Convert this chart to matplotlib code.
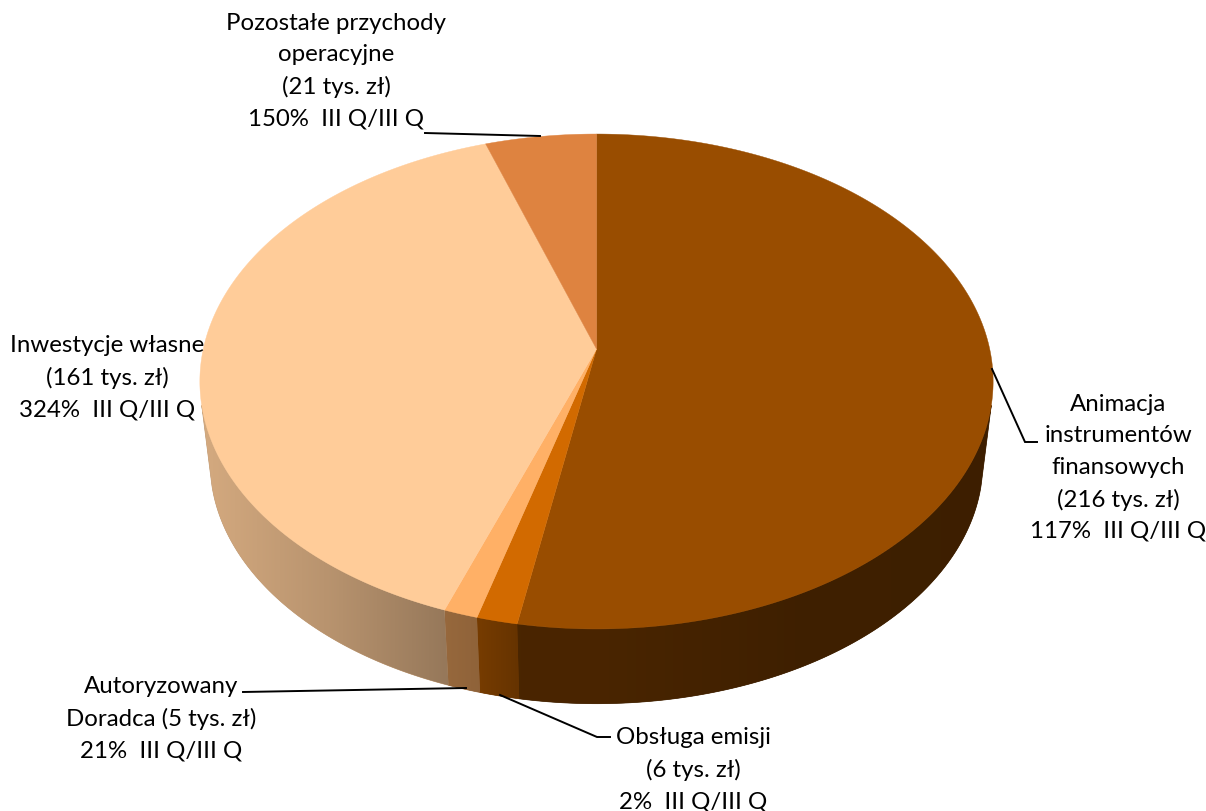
import numpy as np
import matplotlib
matplotlib.use('Agg')
import matplotlib.pyplot as plt
from matplotlib.patches import Polygon

plt.rcParams['font.family'] = ['Lato', 'DejaVu Sans']

# slices, clockwise from 12 o'clock
values = [216, 6, 5, 161, 21]
labels = ['Animacja\ninstrumentów\nfinansowych\n(216 tys. zł)\n117%  III Q/III Q',
          'Obsługa emisji\n(6 tys. zł)\n2%  III Q/III Q',
          'Autoryzowany\nDoradca (5 tys. zł)\n21%  III Q/III Q',
          'Inwestycje własne\n(161 tys. zł)\n324%  III Q/III Q',
          'Pozostałe przychody\noperacyjne\n(21 tys. zł)\n150%  III Q/III Q']
colors = ['#994D00', '#D26A00', '#FFB066', '#FFCC99', '#DE8340']
label_xy = [(1118, 468), (693, 770), (161, 719), (107, 378), (336, 71)]
leaders = [[(992, 370), (1025, 443), (1037, 443)],
           [(500, 696), (597, 738), (610, 738)],
           [(243, 693), (466, 689)],
           [(425, 134), (540, 137)]]

# pie geometry in pixels, perspective squeeze k
cx, cy = 596.5, 350
A, B, k = 393.2, 243.2, 0.1313
cy_low, scale_low = 432, 0.974

def top_rim(a):
    den = 1 + k * np.cos(a)
    return cx + A * np.sin(a) / den, cy - B * np.cos(a) / den

def low_rim(a):
    den = 1 + k * np.cos(a)
    return cx + scale_low * A * np.sin(a) / den, cy_low - scale_low * B * np.cos(a) / den

def shade(x):
    # side walls get darker from left to right
    return np.interp(x, [205, 330, 445, 480, 520, 600, 800, 990],
                     [0.83, 0.72, 0.59, 0.56, 0.48, 0.48, 0.41, 0.40])

fig = plt.figure(figsize=(12.06, 8.12), dpi=100)
ax = fig.add_axes([0, 0, 1, 1])

edges = np.cumsum([0] + values) / sum(values) * 2 * np.pi

# side wall, only the front part shows
for i, col in enumerate(colors):
    a0, a1 = max(edges[i], np.radians(103)), min(edges[i + 1], np.radians(257))
    if a1 <= a0:
        continue
    a = np.linspace(a0, a1, 300)
    xt, yt = top_rim(a)
    xb, yb = low_rim(a)
    poly_x = np.r_[xt, xb[::-1]]
    poly_y = np.r_[yt, yb[::-1]]
    rgb = np.array(matplotlib.colors.to_rgb(col))
    # plain fill below gives the soft edge, gradient goes on top
    ax.fill(poly_x, poly_y, color=rgb * shade(poly_x.mean()), lw=0.5, zorder=2)
    x0, x1 = poly_x.min(), poly_x.max()
    xs = np.linspace(x0, x1, 256)
    grad = (shade(xs)[None, :, None] * rgb[None, None, :]).clip(0, 1)
    im = ax.imshow(grad, extent=[x0, x1, poly_y.max(), poly_y.min()], aspect='auto',
                   interpolation='bilinear', zorder=2.5)
    clip = Polygon(np.c_[poly_x, poly_y], closed=True, transform=ax.transData)
    im.set_clip_path(clip)

# top face
for i, col in enumerate(colors):
    a = np.linspace(edges[i], edges[i + 1], 300)
    x, y = top_rim(a)
    ax.fill(np.r_[cx, x], np.r_[cy, y], color=col, lw=0.3, zorder=3)

for pts in leaders:
    ax.plot(*zip(*pts), color='black', lw=1.4, zorder=4, solid_joinstyle='miter')

for txt, (x, y) in zip(labels, label_xy):
    ax.text(x, y, txt, ha='center', va='center', fontsize=17.3, color='black',
            linespacing=1.6, zorder=5)

ax.set_xlim(0, 1206)
ax.set_ylim(812, 0)
ax.axis('off')

fig.savefig('out.png', dpi=100)
